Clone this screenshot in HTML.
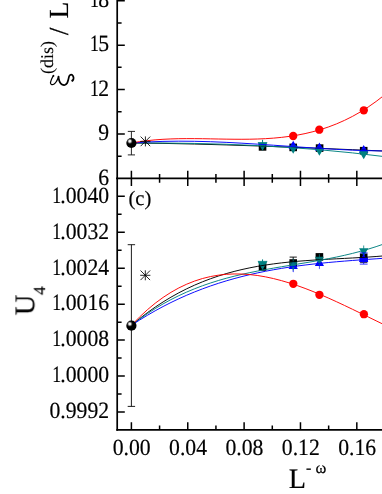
<!DOCTYPE html>
<html><head><meta charset="utf-8"><title>chart</title><style>html,body{margin:0;padding:0;background:#fff;}svg{display:block;}</style></head><body>
<svg width="382" height="494" viewBox="0 0 382 494">
<rect width="382" height="494" fill="#fff"/>
<defs><radialGradient id="sg" cx="0.345" cy="0.325" r="0.5" fx="0.345" fy="0.325"><stop offset="0" stop-color="#fff"/><stop offset="0.2" stop-color="#e4e4e4"/><stop offset="0.34" stop-color="#777"/><stop offset="0.5" stop-color="#151515"/><stop offset="0.62" stop-color="#000"/><stop offset="1" stop-color="#000"/></radialGradient></defs>
<rect x="258.75" y="143.10" width="7.60" height="7.60" fill="#000"/>
<path d="M262.55 139.8 V146 M257.85 142.7 H267.25" stroke="#008080" stroke-width="1.0" fill="none"/>
<path d="M262.55 150.83 L267.15 142.83 L257.95 142.83 Z" fill="#008080"/>
<rect x="289.40" y="143.60" width="7.60" height="7.60" fill="#000"/>
<path d="M293.20 140.77 L297.80 148.77 L288.60 148.77 Z" fill="#0000ff"/>
<path d="M293.20 153.83 L297.80 145.83 L288.60 145.83 Z" fill="#008080"/>
<rect x="315.80" y="144.30" width="7.60" height="7.60" fill="#000"/>
<path d="M319.40 142.47 L324.00 150.47 L314.80 150.47 Z" fill="#0000ff"/>
<path d="M319.40 155.83 L324.00 147.83 L314.80 147.83 Z" fill="#008080"/>
<rect x="359.90" y="146.90" width="7.60" height="7.60" fill="#000"/>
<path d="M363.70 144.97 L368.30 152.97 L359.10 152.97 Z" fill="#0000ff"/>
<path d="M363.70 159.13 L368.30 151.13 L359.10 151.13 Z" fill="#008080"/>
<rect x="258.75" y="263.20" width="7.60" height="7.60" fill="#000"/>
<path d="M262.55 259.4 V268 M257.85 261.4 H267.25" stroke="#008080" stroke-width="1.0" fill="none"/>
<path d="M262.55 269.93 L267.15 261.93 L257.95 261.93 Z" fill="#008080"/>
<path d="M289.60 257.1 H296.80 M293.20 257.1 V260" stroke="#000" stroke-width="0.9" fill="none"/>
<rect x="289.40" y="259.20" width="7.60" height="7.60" fill="#000"/>
<path d="M293.20 261.07 L297.80 269.07 L288.60 269.07 Z" fill="#0000ff"/>
<path d="M293.20 262.00 V272.00 M293.10 262.00 H293.30 M293.10 272.00 H293.30" stroke="#0000ff" stroke-width="0.80" fill="none"/>
<g opacity="0.8">
<path d="M293.20 269.83 L297.80 261.83 L288.60 261.83 Z" fill="#008080"/>
</g>
<path d="M293.20 258.5 V270.5" stroke="#008080" stroke-width="0.7"/>
<rect x="315.60" y="253.10" width="7.60" height="7.60" fill="#000"/>
<path d="M319.40 258.07 L324.00 266.07 L314.80 266.07 Z" fill="#0000ff"/>
<path d="M319.40 258.00 V268.80 M319.30 258.00 H319.50 M319.30 268.80 H319.50" stroke="#0000ff" stroke-width="0.70" fill="none"/>
<g opacity="0.85">
<path d="M319.40 264.83 L324.00 256.83 L314.80 256.83 Z" fill="#008080"/>
</g>
<path d="M319.40 254.2 V265.2" stroke="#008080" stroke-width="0.7"/>
<rect x="359.90" y="253.50" width="7.60" height="7.60" fill="#000"/>
<path d="M360.10 262.4 H367.30" stroke="#000" stroke-width="0.8"/>
<path d="M363.70 245.5 V255" stroke="#008080" stroke-width="0.8"/>
<path d="M363.70 256.13 L368.30 248.13 L359.10 248.13 Z" fill="#008080"/>
<path d="M363.70 254.07 L368.30 262.07 L359.10 262.07 Z" fill="#0000ff"/>
<rect x="359.50" y="257.4" width="8.4" height="4.7" fill="#0000ff"/>
<path d="M363.70 252.90 V264.10 M359.80 252.90 H367.60 M359.80 264.10 H367.60" stroke="#0000ff" stroke-width="0.80" fill="none"/>
<path d="M131.40 143.00 C215.60 143.64 299.80 147.57 384.00 151.03" fill="none" stroke="#000000" stroke-width="0.95"/>
<path d="M131.40 143.00 C215.60 142.60 299.80 145.80 384.00 156.57" fill="none" stroke="#008080" stroke-width="0.95"/>
<path d="M131.40 143.00 C215.60 136.29 299.80 150.14 384.00 150.99" fill="none" stroke="#0000ff" stroke-width="0.95"/>
<path d="M131.40 143.00 C215.60 127.48 299.80 163.76 384.00 95.37" fill="none" stroke="#ff0000" stroke-width="0.95"/>
<path d="M131.50 325.30 C215.67 253.35 299.83 263.12 384.00 255.87" fill="none" stroke="#000000" stroke-width="0.95"/>
<path d="M131.50 325.30 C215.67 258.65 299.83 274.33 384.00 243.93" fill="none" stroke="#008080" stroke-width="0.95"/>
<path d="M131.50 325.30 C215.67 269.11 299.83 263.97 384.00 258.27" fill="none" stroke="#0000ff" stroke-width="0.95"/>
<path d="M131.50 325.30 C215.67 234.17 299.83 283.97 384.00 324.64" fill="none" stroke="#ff0000" stroke-width="0.95"/>
<circle cx="293.20" cy="136.00" r="4.15" fill="#ff0000"/>
<circle cx="319.30" cy="129.70" r="4.15" fill="#ff0000"/>
<circle cx="363.80" cy="110.30" r="4.15" fill="#ff0000"/>
<circle cx="293.30" cy="283.80" r="4.15" fill="#ff0000"/>
<circle cx="319.40" cy="294.80" r="4.15" fill="#ff0000"/>
<circle cx="363.90" cy="314.20" r="4.15" fill="#ff0000"/>
<path d="M131.40 131.40 V154.90 M127.80 131.40 H135.00 M127.80 154.90 H135.00" stroke="#111" stroke-width="0.90" fill="none"/>
<circle cx="131.40" cy="143.00" r="5.10" fill="url(#sg)"/>
<path d="M145.40 136.40 V146.40 M140.30 141.40 H150.50 M140.60 136.60 L150.20 146.20 M140.60 146.20 L150.20 136.60" stroke="#000" stroke-width="0.85" fill="none"/>
<path d="M131.40 244.70 V406.40 M127.70 244.70 H135.10 M127.70 406.40 H135.10" stroke="#111" stroke-width="0.95" fill="none"/>
<circle cx="131.40" cy="325.70" r="5.10" fill="url(#sg)"/>
<path d="M145.30 270.30 V280.30 M140.20 275.30 H150.40 M140.50 270.50 L150.10 280.10 M140.50 280.10 L150.10 270.50" stroke="#000" stroke-width="0.85" fill="none"/>
<path d="M53.61 75.47 C53.47 75.68 53.16 75.99 52.77 76.73 C52.39 77.46 51.69 78.82 51.31 79.87 C50.92 80.92 50.40 82.23 50.47 83.01 C50.54 83.80 51.12 84.41 51.73 84.58 C52.34 84.76 53.39 84.53 54.14 84.06 C54.89 83.59 55.62 82.66 56.23 81.75 C56.84 80.85 57.42 79.49 57.80 78.61 C58.18 77.74 58.41 76.87 58.53 76.52" fill="none" stroke="#000" stroke-width="1.25" stroke-linecap="round"/>
<path d="M58.53 76.52 C58.59 76.95 58.62 78.18 58.85 79.14 C59.08 80.10 59.37 81.39 59.90 82.28 C60.42 83.17 61.17 84.02 61.99 84.48 C62.81 84.93 63.98 85.19 64.82 85.00 C65.65 84.81 66.44 84.21 67.02 83.32 C67.59 82.43 67.89 80.90 68.27 79.66 C68.66 78.42 68.83 76.75 69.32 75.89 C69.81 75.03 70.58 74.49 71.20 74.53 C71.83 74.56 72.71 75.38 73.09 76.10 C73.47 76.82 73.63 78.05 73.51 78.82 C73.39 79.59 72.55 80.39 72.36 80.71" fill="none" stroke="#000" stroke-width="1.75" stroke-linecap="round" stroke-linejoin="round"/>
<circle cx="53.40" cy="75.89" r="0.9" fill="#000"/>
<circle cx="72.46" cy="80.39" r="1.0" fill="#000"/>
<g stroke="#000" fill="none" stroke-linecap="butt">
<path d="M117.20 -2 V430.75" stroke-width="1.70"/>
<path d="M116.05 178.35 H384" stroke-width="1.70"/>
<path d="M116.35 429.90 H384" stroke-width="1.70"/>
<path d="M117.20 0.75 H124.80 M117.20 45.15 H124.80 M117.20 89.55 H124.80 M117.20 133.95 H124.80 M117.20 22.95 H121.60 M117.20 67.35 H121.60 M117.20 111.75 H121.60 M117.20 156.15 H121.60 M117.20 196.35 H124.80 M117.20 232.29 H124.80 M117.20 268.23 H124.80 M117.20 304.17 H124.80 M117.20 340.11 H124.80 M117.20 376.05 H124.80 M117.20 411.99 H124.80 M117.20 214.32 H121.60 M117.20 250.26 H121.60 M117.20 286.20 H121.60 M117.20 322.14 H121.60 M117.20 358.08 H121.60 M117.20 394.02 H121.60 M131.40 170.65 V186.05 M131.40 422.20 V429.90 M187.76 170.65 V186.05 M187.76 422.20 V429.90 M244.11 170.65 V186.05 M244.11 422.20 V429.90 M300.47 170.65 V186.05 M300.47 422.20 V429.90 M356.82 170.65 V186.05 M356.82 422.20 V429.90 M159.58 173.95 V182.75 M159.58 425.40 V429.90 M215.93 173.95 V182.75 M215.93 425.40 V429.90 M272.29 173.95 V182.75 M272.29 425.40 V429.90 M328.65 173.95 V182.75 M328.65 425.40 V429.90 " stroke-width="1.50"/>
</g>
<g font-family="'Liberation Serif', serif" fill="#000" stroke="#000" stroke-width="0.18" text-rendering="geometricPrecision" opacity="0.999">
<text transform="translate(109.1,7.05) scale(1,1.075)" font-size="21.70" text-anchor="end">8</text>
<text transform="translate(99.00,7.05) scale(0.82,1.075)" font-size="21.70" text-anchor="end">1</text>
<text transform="translate(109.1,51.45) scale(1,1.075)" font-size="21.70" text-anchor="end">5</text>
<text transform="translate(99.00,51.45) scale(0.82,1.075)" font-size="21.70" text-anchor="end">1</text>
<text transform="translate(109.1,95.85) scale(1,1.075)" font-size="21.70" text-anchor="end">2</text>
<text transform="translate(99.00,95.85) scale(0.82,1.075)" font-size="21.70" text-anchor="end">1</text>
<text transform="translate(109.1,140.25) scale(1,1.075)" font-size="21.70" text-anchor="end">9</text>
<text transform="translate(109.1,184.65) scale(1,1.075)" font-size="21.70" text-anchor="end">6</text>
<text transform="translate(109.1,202.65) scale(1,1.075)" font-size="21.70" text-anchor="end">.0040</text>
<text transform="translate(61.02,202.65) scale(0.82,1.075)" font-size="21.70" text-anchor="end">1</text>
<text transform="translate(109.1,238.59) scale(1,1.075)" font-size="21.70" text-anchor="end">.0032</text>
<text transform="translate(61.02,238.59) scale(0.82,1.075)" font-size="21.70" text-anchor="end">1</text>
<text transform="translate(109.1,274.53) scale(1,1.075)" font-size="21.70" text-anchor="end">.0024</text>
<text transform="translate(61.02,274.53) scale(0.82,1.075)" font-size="21.70" text-anchor="end">1</text>
<text transform="translate(109.1,310.47) scale(1,1.075)" font-size="21.70" text-anchor="end">.0016</text>
<text transform="translate(61.02,310.47) scale(0.82,1.075)" font-size="21.70" text-anchor="end">1</text>
<text transform="translate(109.1,346.41) scale(1,1.075)" font-size="21.70" text-anchor="end">.0008</text>
<text transform="translate(61.02,346.41) scale(0.82,1.075)" font-size="21.70" text-anchor="end">1</text>
<text transform="translate(109.1,382.35) scale(1,1.075)" font-size="21.70" text-anchor="end">.0000</text>
<text transform="translate(61.02,382.35) scale(0.82,1.075)" font-size="21.70" text-anchor="end">1</text>
<text transform="translate(109.1,418.29) scale(1,1.075)" font-size="21.70" text-anchor="end">0.9992</text>
<text transform="translate(131.70,454.6) scale(1,1.075)" font-size="21.70" text-anchor="middle">0.00</text>
<text transform="translate(188.06,454.6) scale(1,1.075)" font-size="21.70" text-anchor="middle">0.04</text>
<text transform="translate(244.41,454.6) scale(1,1.075)" font-size="21.70" text-anchor="middle">0.08</text>
<text transform="translate(300.77,454.6) scale(1,1.075)" font-size="21.70" text-anchor="middle">0.12</text>
<text transform="translate(357.12,454.6) scale(1,1.075)" font-size="21.70" text-anchor="middle">0.16</text>
<text x="128.4" y="205.3" font-size="20.6">(c)</text>
<text x="288.8" y="488.3" font-size="28.2" stroke-width="0.2">L</text>
<text x="306.0" y="472.7" font-size="16">-</text>
<text x="315.5" y="472.7" font-size="16.5">ω</text>
<g transform="translate(67.6,87) rotate(-90)" stroke-width="0.15"><text x="13.1" y="-14.3" font-size="18.0" stroke-width="0.15">(dis)</text><text x="51.8" y="0" font-size="27.6">/</text><text x="68.4" y="0" font-size="27.6">L</text></g>
<g transform="translate(34.2,315.2) rotate(-90)" stroke-width="0.25"><text x="0" y="0" font-size="28.3">U</text><text x="20.2" y="10.8" font-size="17" stroke-width="0.2">4</text></g>
</g>
</svg>
</body></html>
